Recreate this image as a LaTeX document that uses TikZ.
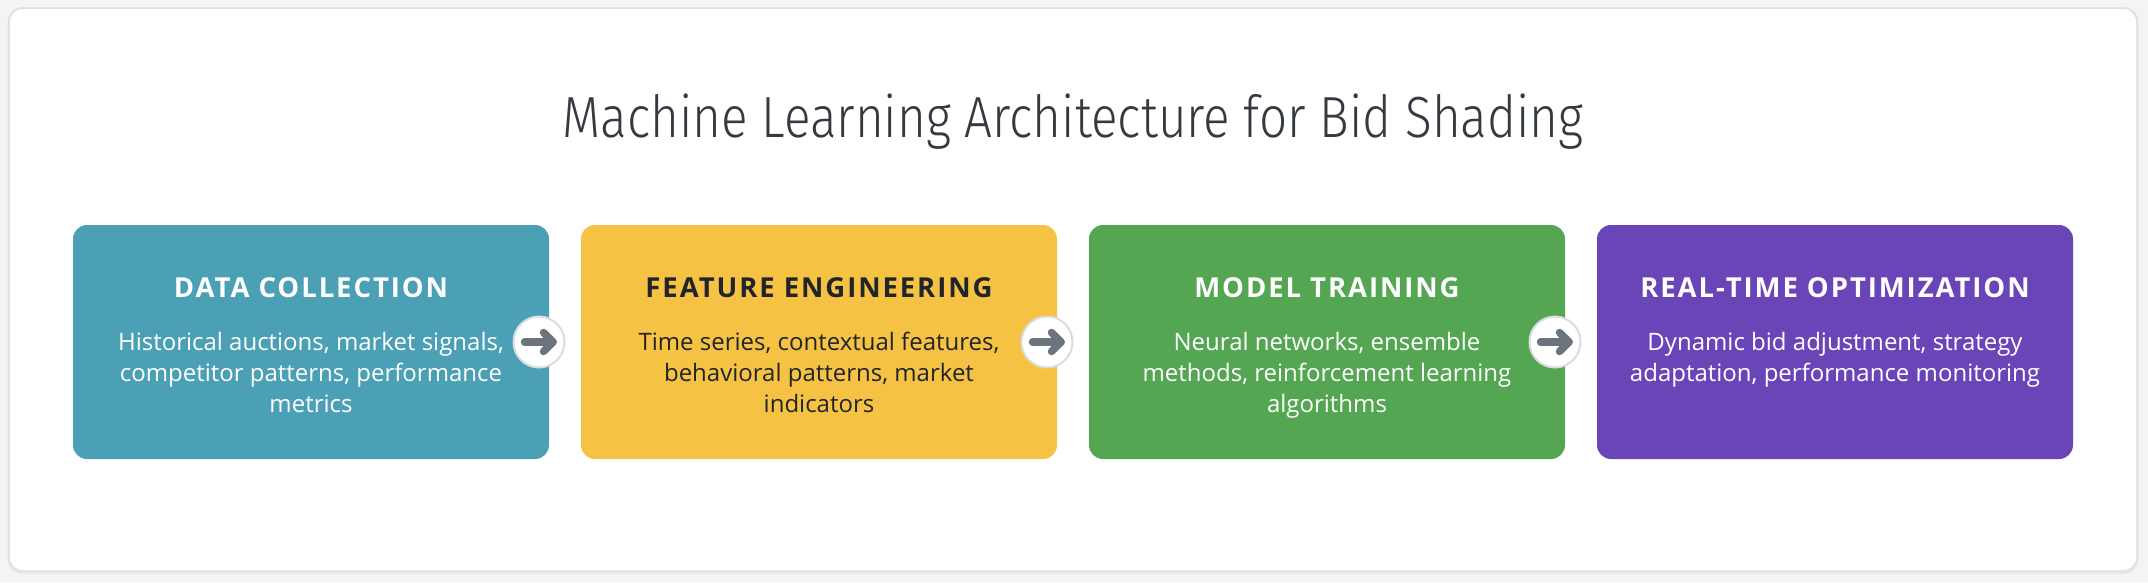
\documentclass[tikz,border=0pt]{standalone}
\usepackage{fontspec}
\usepackage{graphicx}
\setmainfont{Open Sans}
\newfontfamily\titlefont{Fira Sans Light}
\newfontfamily\headfont[LetterSpace=7]{Open Sans}
\definecolor{pagebg}{HTML}{F3F4F6}
\definecolor{cardborder}{HTML}{DDE1E5}
\definecolor{cardshadow}{HTML}{E6E8EB}
\definecolor{titlecol}{HTML}{343A40}
\definecolor{stageA}{HTML}{4BA0B5}
\definecolor{stageB}{HTML}{F5C244}
\definecolor{stageC}{HTML}{54A653}
\definecolor{stageD}{HTML}{6A45B8}
\definecolor{darktext}{HTML}{212529}
\definecolor{arrowgray}{HTML}{6C757D}
\definecolor{circborder}{HTML}{DADDE1}
\begin{document}
\begin{tikzpicture}[x=1pt,y=1pt,
  stagebox/.style={rounded corners=14pt, minimum width=476pt, minimum height=234pt, inner sep=0pt, draw=none},
  headtext/.style={anchor=base, inner sep=0pt, font=\headfont\bfseries\fontsize{27.5}{33}\selectfont},
  bodytext/.style={anchor=north, inner sep=0pt, align=center, font=\fontsize{24}{31}\selectfont},
  linkcircle/.style={circle, fill=white, draw=circborder, line width=2pt, minimum size=51pt, inner sep=0pt},
  arrowline/.style={draw=arrowgray, line width=7.5pt, line cap=round, line join=round}
]
\fill[pagebg] (0,0) rectangle (2148,-582);
\useasboundingbox (0,0) rectangle (2148,-582);
\fill[cardshadow, rounded corners=15pt] (7.5,-7) rectangle (2138.5,-574);
\filldraw[fill=white, draw=cardborder, line width=1.5pt, rounded corners=14pt] (9,-8) rectangle (2137,-571);

\node[anchor=base, inner sep=0pt, text=titlecol] (title) at (1073,-137)
  {\resizebox{1021pt}{\height}{\titlefont\fontsize{58}{70}\selectfont Machine Learning Architecture for Bid Shading}};

\node[stagebox, fill=stageA] (s1) at (311,-342) {};
\node[stagebox, fill=stageB] (s2) at (819,-342) {};
\node[stagebox, fill=stageC] (s3) at (1327,-342) {};
\node[stagebox, fill=stageD] (s4) at (1835,-342) {};

\node[headtext, text=white] (h1) at (311,-297) {DATA COLLECTION};
\node[headtext, text=darktext] (h2) at (819,-297) {FEATURE ENGINEERING};
\node[headtext, text=white] (h3) at (1327,-297) {MODEL TRAINING};
\node[headtext, text=white] (h4) at (1835,-297) {REAL-TIME OPTIMIZATION};

\node[bodytext, text=white] (t1) at (311,-328.3) {\strut Historical auctions, market signals,\\ competitor patterns, performance\\ metrics};
\node[bodytext, text=darktext] (t2) at (819,-328.3) {\strut Time series, contextual features,\\ behavioral patterns, market\\ indicators};
\node[bodytext, text=white] (t3) at (1327,-328.3) {\strut Neural networks, ensemble\\ methods, reinforcement learning\\ algorithms};
\node[bodytext, text=white] (t4) at (1835,-328.3) {\strut Dynamic bid adjustment, strategy\\ adaptation, performance monitoring};

\foreach \i/\x in {1/539, 2/1047, 3/1555} {
  \node[linkcircle] (a\i) at (\x,-342) {};
  \draw[arrowline] ([xshift=-14.5pt]a\i.center) -- ([xshift=14pt]a\i.center);
  \draw[arrowline] ([xshift=4.5pt,yshift=9.5pt]a\i.center) -- ([xshift=14pt]a\i.center) -- ([xshift=4.5pt,yshift=-9.5pt]a\i.center);
}
\end{tikzpicture}
\end{document}
